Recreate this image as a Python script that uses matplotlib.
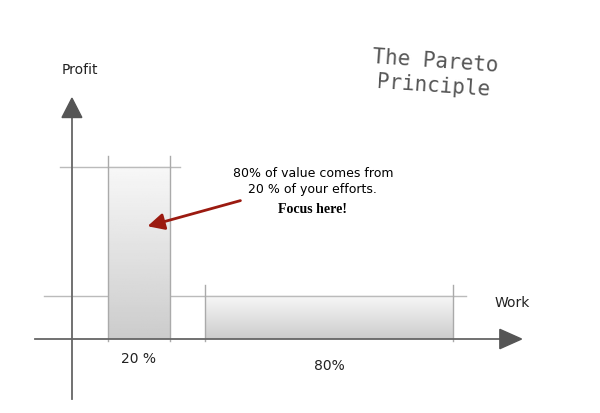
import numpy as np
import matplotlib.pyplot as plt

# data
labels = ["20 %", "80%"]
work = [20, 80]      # share of work (x widths)
profit = [80, 20]    # share of profit (bar heights)
bar_starts = [11.5, 43]

fig = plt.figure(figsize=(6, 4.14), dpi=100)
ax = fig.add_axes([0, 0, 1, 1])
ax.set_xlim(-23.2, 170.3)
ax.set_ylim(-34.4, 158.1)
ax.axis("off")

grad = np.linspace(0.97, 0.80, 100).reshape(-1, 1)
for x0, w, h, lab in zip(bar_starts, work, profit, labels):
    ax.imshow(grad, cmap="gray", vmin=0, vmax=1, aspect="auto",
              extent=(x0, x0 + w, 0, h), zorder=2)
    ax.plot([x0, x0 + w], [h, h], color="#bbbbbb", lw=1, zorder=3)
    for xe in (x0, x0 + w):
        ax.plot([xe, xe], [-1, h + 5], color="#aaaaaa", lw=1, zorder=3)
    ax.text(x0 + w / 2, -9 if w < 50 else -12, lab, ha="center", va="center",
            fontsize=10, color="#222222")

# guide lines
ax.plot([-4, 35], [profit[0], profit[0]], color="#bbbbbb", lw=1, zorder=1)
ax.plot([-9, bar_starts[1] + work[1] + 4], [profit[1], profit[1]], color="#bbbbbb", lw=1, zorder=1)

# axes with arrowheads
ax.plot([0, 0], [-28, 105], color="#666666", lw=1.3, zorder=4)
ax.fill([-3.2, 3.2, 0], [103, 103, 112], color="#555555", zorder=4)
ax.plot([-12, 140], [0, 0], color="#666666", lw=1.3, zorder=4)
ax.fill([138, 138, 145], [-4.5, 4.5, 0], color="#555555", zorder=4)

ax.text(2.6, 125.6, "Profit", fontsize=10, ha="center", va="center", color="#222222")
ax.text(142, 17, "Work", fontsize=10, ha="center", va="center", color="#222222")

ax.text(117, 124, "The Pareto\nPrinciple", fontsize=15, ha="center", va="center",
        color="#555555", rotation=-4, linespacing=1.3, family="DejaVu Sans Mono")

ax.text(77.7, 77.2, "80% of value comes from", fontsize=9, ha="center", va="center")
ax.text(77.7, 69.8, "20 % of your efforts.", fontsize=9, ha="center", va="center")
ax.text(77.7, 60.9, "Focus here!", fontsize=10, ha="center", va="center",
        fontweight="bold", family="Liberation Serif")

ax.annotate("", xy=(23.5, 52.1), xytext=(55.2, 64.7),
            arrowprops=dict(arrowstyle="-|>,head_length=1.0,head_width=0.5",
                            color="#9b1a10", lw=2), zorder=5)

fig.savefig("out.png", dpi=100)
